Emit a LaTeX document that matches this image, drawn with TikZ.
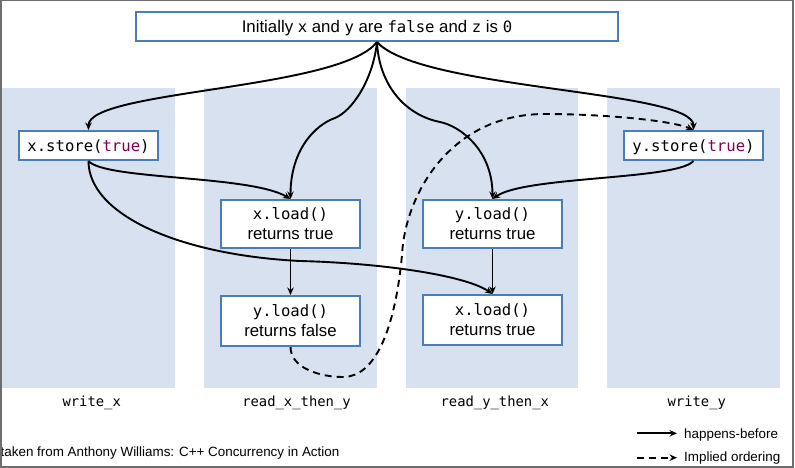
\documentclass[tikz,border=0pt]{standalone}
\usepackage{fontspec}
\setmainfont{Liberation Sans}
\newfontfamily\monof{DejaVu Sans Mono}
\usetikzlibrary{arrows.meta}
\definecolor{colfill}{RGB}{215,225,239}
\definecolor{boxblue}{RGB}{74,126,187}
\definecolor{kw}{RGB}{127,0,85}
\definecolor{framegray}{RGB}{110,110,110}
\newcommand\mc[1]{{\monof\fontsize{15.6}{20}\selectfont #1}}
\begin{document}
\begin{tikzpicture}[x=1pt,y=-1pt,
  lane/.style={fill=colfill},
  evbox/.style={draw=boxblue, line width=2pt, fill=white, minimum width=139pt,
    inner sep=0pt, align=center, font=\fontsize{16.8}{20}\selectfont},
  hb/.style={line width=1.9pt, -{Stealth[length=7.5pt,width=6.5pt]}},
  io/.style={hb, dash pattern=on 7pt off 5pt},
  lanelabel/.style={anchor=base, inner sep=0pt, font=\monof\fontsize{13.85}{16}\selectfont},
  small/.style={inner sep=0pt, font=\fontsize{13.4}{16}\selectfont}
]
\useasboundingbox (0,0) rectangle (795,468);
\clip (0,0) rectangle (795,468);
% lanes
\fill[lane] (2,88) rectangle (175,388);
\fill[lane] (204,88) rectangle (377,388);
\fill[lane] (406,88) rectangle (578,388);
\fill[lane] (607,88) rectangle (780,388);

% boxes
\node[evbox, minimum width=482pt, minimum height=29pt, text height=12.4pt, text depth=0pt] (init) at (377,26.5)
  {Initially \mc{x} and \mc{y} are \mc{false} and \mc{z} is \mc{0}};
\node[evbox, minimum height=29pt, text height=12pt, text depth=0pt] (xs) at (88.5,145.5) {\mc{x.store(\textcolor{kw}{true})}};
\node[evbox, minimum height=29pt, text height=12pt, text depth=0pt] (ys) at (693.5,145.5) {\mc{y.store(\textcolor{kw}{true})}};
\node[evbox, minimum height=48pt] (xl) at (290.5,224) {\mc{x.load()}\\returns true};
\node[evbox, minimum height=50pt] (yf) at (290.5,321) {\mc{y.load()}\\returns false};
\node[evbox, minimum height=48pt] (yl) at (492.5,224) {\mc{y.load()}\\returns true};
\node[evbox, minimum height=50pt] (xl2) at (492.5,320) {\mc{x.load()}\\returns true};

% lane labels
\node[lanelabel] (l1) at (91.7,406.7) {write\_x};
\node[lanelabel] (l2) at (296.5,406.7) {read\_x\_then\_y};
\node[lanelabel] (l3) at (494.8,406.7) {read\_y\_then\_x};
\node[lanelabel] (l4) at (696.8,406.7) {write\_y};

% happens-before edges
\draw[hb] (init.south) .. controls (340,90) and (88.5,90) .. (xs.north);
\draw[hb] (init.south) .. controls (373,80) and (352,111) .. (335,118)
                       .. controls (315,125) and (290.5,150) .. (xl.north);
\draw[hb] (init.south) .. controls (379,85) and (405,115) .. (440,122)
                       .. controls (460,126) and (492.5,150) .. (yl.north);
\draw[hb] (init.south) .. controls (420,90) and (693.5,90) .. (ys.north);
\draw[hb] (xs.south) .. controls (105,180) and (250,175) .. (xl.north);
\draw[hb] (ys.south) .. controls (677,180) and (525,176) .. (yl.north);
\draw[hb] (xs.south) .. controls (88.5,215) and (180,255) .. (300,261)
                     .. controls (380,263) and (465,275) .. (xl2.north);
\draw[hb] (xl) -- (yf);
\draw[hb] (yl) -- (xl2);
% implied ordering
\draw[io] (yf.south) .. controls (290.5,368) and (320,377) .. (343,377)
                     .. controls (375,377) and (395,330) .. (402,255)
                     .. controls (405,195) and (450,114) .. (545,114)
                     .. controls (600,114) and (670,120) .. (ys.north);

% source note
\node[small, anchor=base west] (src) at (0.5,456.5) {taken from Anthony Williams: C++ Concurrency in Action};

% legend
\coordinate (hbs) at (637,433.3);
\coordinate (hbe) at (677,433.3);
\coordinate (ios) at (637,457.7);
\coordinate (ioe) at (677,457.7);
\draw[hb] (hbs) -- (hbe);
\draw[io] (ios) -- (ioe);
\node[small, anchor=base west] (hbt) at (684,438.3) {happens-before};
\node[small, anchor=base west] (iot) at (684,461.7) {Implied ordering};

% frame
\draw[framegray, line width=1.5pt] (0.75,0.75) rectangle (793,467);
\end{tikzpicture}
\end{document}
